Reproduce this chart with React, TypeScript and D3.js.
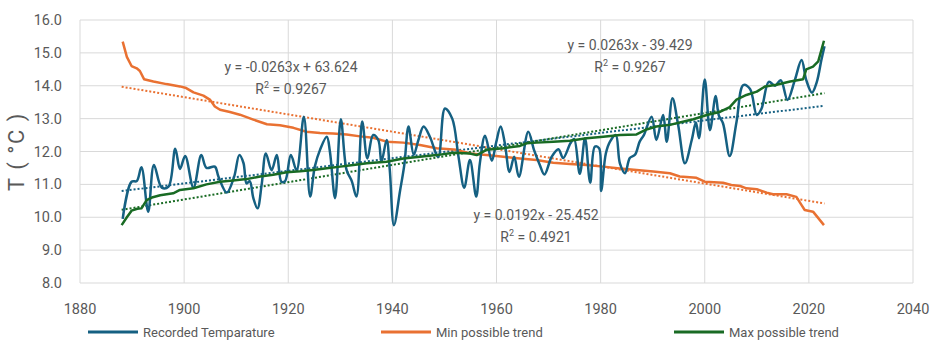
import * as d3 from 'd3'

const YEAR_TICKS = [1880, 1900, 1920, 1940, 1960, 1980, 2000, 2020, 2040]
const TEMP_TICKS = [8, 9, 10, 11, 12, 13, 14, 15, 16]

// [year, °C]
const RECORDED: [number, number][] = [
  [1888.2, 9.95], [1889.9, 11.08], [1890.9, 11.1], [1891.8, 11.52], [1893.1, 10.17], [1894.2, 11.59],
  [1895.7, 10.9], [1897.0, 10.93], [1898.3, 12.08], [1899.2, 11.47], [1900.2, 11.86], [1901.8, 10.9],
  [1903.3, 11.89], [1904.3, 11.5], [1905.9, 11.54], [1906.6, 11.23], [1908.2, 10.75], [1909.6, 11.23],
  [1910.6, 11.89], [1911.4, 11.65], [1912.0, 11.03], [1912.6, 11.1], [1913.3, 10.58], [1914.1, 10.27],
  [1914.9, 11.0], [1915.7, 11.94], [1916.8, 11.43], [1917.8, 11.89], [1918.7, 11.08], [1919.4, 11.1],
  [1920.5, 11.89], [1921.6, 11.43], [1923.0, 13.06], [1924.2, 10.63], [1925.1, 11.54], [1926.1, 12.05],
  [1927.4, 12.45], [1928.0, 12.0], [1929.0, 10.58], [1930.1, 12.98], [1931.2, 11.44], [1932.2, 11.1],
  [1933.1, 10.63], [1934.2, 12.91], [1935.2, 11.79], [1936.3, 12.5], [1937.3, 12.35], [1937.9, 11.69],
  [1938.9, 12.35], [1939.5, 11.44], [1940.3, 9.76], [1941.5, 10.83], [1942.3, 11.6], [1943.1, 12.76],
  [1944.1, 11.9], [1945.0, 12.35], [1946.0, 12.76], [1947.2, 12.45], [1948.8, 11.84], [1950.1, 13.31],
  [1951.5, 13.0], [1952.7, 11.84], [1953.8, 10.9], [1954.9, 11.74], [1956.1, 10.63], [1956.8, 11.64],
  [1957.8, 12.48], [1959.1, 11.72], [1959.9, 12.25], [1960.8, 12.76], [1961.6, 12.25], [1962.5, 11.38],
  [1963.4, 11.84], [1964.3, 11.23], [1966.1, 12.6], [1967.2, 12.05], [1968.3, 11.6], [1969.2, 11.3],
  [1970.6, 11.84], [1971.9, 12.07], [1972.8, 11.8], [1974.2, 12.25], [1974.9, 12.38], [1976.0, 11.32],
  [1977.0, 12.4], [1978.0, 11.05], [1978.9, 12.15], [1979.7, 12.1], [1980.1, 10.8], [1981.0, 11.94],
  [1981.8, 12.3], [1982.9, 12.5], [1983.7, 11.64], [1984.7, 11.34], [1985.6, 11.8], [1986.6, 11.9],
  [1987.5, 12.3], [1988.3, 12.5], [1989.8, 13.06], [1990.7, 12.35], [1992.0, 13.11], [1992.7, 12.3],
  [1993.8, 13.62], [1994.9, 12.8], [1996.2, 11.64], [1997.5, 12.35], [1998.3, 12.88], [1998.9, 12.4],
  [2000.0, 14.19], [2001.0, 12.65], [2002.1, 13.69], [2002.7, 13.1], [2003.5, 12.86], [2004.8, 11.86],
  [2006.1, 12.9], [2007.4, 14.02], [2008.7, 13.9], [2010.0, 13.11], [2010.9, 13.3], [2012.3, 14.12],
  [2013.5, 14.0], [2014.6, 14.17], [2015.9, 13.57], [2017.3, 14.17], [2018.6, 14.78], [2019.5, 14.17],
  [2020.6, 13.79], [2021.5, 14.1], [2022.4, 14.78], [2023.0, 15.2],
]

const MIN_TREND: [number, number][] = [
  [1888.2, 15.34], [1889, 14.88], [1889.9, 14.6], [1890.9, 14.53], [1891.5, 14.45], [1892.3, 14.2],
  [1894.1, 14.13], [1896.6, 14.05], [1899.2, 13.98], [1900.4, 13.93], [1901.8, 13.8], [1903.7, 13.7],
  [1905, 13.57], [1905.9, 13.37], [1906.9, 13.27], [1908.8, 13.2], [1910.7, 13.12], [1913.3, 12.97],
  [1915.9, 12.83], [1918.4, 12.8], [1921, 12.72], [1923.5, 12.6], [1926.1, 12.56], [1928.6, 12.55],
  [1931.2, 12.52], [1933.8, 12.46], [1936.3, 12.42], [1938.9, 12.3], [1942.1, 12.27], [1945.3, 12.2],
  [1948.5, 12.1], [1952.3, 12.05], [1954.9, 11.94], [1958.1, 11.89], [1961.3, 11.84], [1964.5, 11.79],
  [1967.7, 11.74], [1970.9, 11.66], [1974.1, 11.62], [1977.3, 11.59], [1980.5, 11.54], [1983.7, 11.48],
  [1986.9, 11.44], [1990.1, 11.39], [1993.3, 11.34], [1995.2, 11.24], [1998.4, 11.2], [2000, 11.08],
  [2003.5, 11.05], [2005.1, 10.98], [2006.8, 10.95], [2008, 10.88], [2010, 10.85], [2011.9, 10.75],
  [2013.1, 10.7], [2015.7, 10.7], [2017.6, 10.62], [2018.6, 10.37], [2019.2, 10.22], [2020.8, 10.17],
  [2022.9, 9.76],
]

const MAX_TREND: [number, number][] = [
  [1888, 9.76], [1889, 10.0], [1889.9, 10.2], [1891, 10.26], [1891.8, 10.27], [1892.8, 10.52],
  [1893.8, 10.6], [1895.4, 10.67], [1897.9, 10.73], [1899.2, 10.83], [1901.8, 10.88], [1904.3, 11.0],
  [1906.9, 11.08], [1909.4, 11.12], [1912, 11.16], [1914.6, 11.24], [1917.1, 11.29], [1919.7, 11.37],
  [1922.3, 11.4], [1924.8, 11.44], [1927.4, 11.49], [1930, 11.54], [1932.5, 11.59], [1935.1, 11.64],
  [1938.9, 11.69], [1942.1, 11.79], [1945.3, 11.84], [1948.5, 11.89], [1951.7, 11.96], [1954.9, 11.94],
  [1956.2, 11.89], [1958.1, 12.05], [1961.3, 12.1], [1964.5, 12.17], [1965.8, 12.25], [1967.7, 12.27],
  [1970.9, 12.3], [1974.1, 12.33], [1977.3, 12.4], [1980.5, 12.45], [1983.7, 12.5], [1986.9, 12.52],
  [1988.8, 12.67], [1990.7, 12.76], [1993.3, 12.81], [1995.2, 12.88], [1997.8, 12.98], [2000.4, 13.11],
  [2003, 13.21], [2004.8, 13.35], [2006.1, 13.58], [2008, 13.72], [2010, 13.82], [2011.6, 13.98],
  [2013.8, 14.03], [2016.4, 14.13], [2018.9, 14.2], [2019.5, 14.5], [2020.8, 14.58], [2021.8, 14.74],
  [2022.9, 15.37],
]

// linear trendlines as printed on the chart: slope, intercept, R²
const TREND_RECORDED = [0.0192, -25.452, 0.4921]
const TREND_MIN = [-0.0263, 63.624, 0.9267]
const TREND_MAX = [0.0263, -39.429, 0.9267]
const TREND_SPAN = [1888, 2023]

const BLUE = '#156082'
const ORANGE = '#E97132'
const GREEN = '#196B24'
const TXT = '#595959'
const GRID = '#d9d9d9'

const W = 935
const H = 343
const M = { left: 80, right: 22, top: 20, bottom: 60 }

export default function App() {
  const x = d3.scaleLinear().domain([1880, 2040]).range([M.left, W - M.right])
  const y = d3.scaleLinear().domain([8, 16]).range([H - M.bottom, M.top])

  const smooth = d3.line<[number, number]>().x(d => x(d[0])).y(d => y(d[1])).curve(d3.curveCatmullRom.alpha(0.5))
  const straight = d3.line<[number, number]>().x(d => x(d[0])).y(d => y(d[1]))

  const trendPath = (t: number[]) =>
    straight(TREND_SPAN.map(yr => [yr, t[0] * yr + t[1]] as [number, number])) || ''

  const font = 'Roboto, "Noto Sans", sans-serif'

  const eqLabel = (t: number[], cx: number, cy: number) => {
    const sign = t[1] < 0 ? '-' : '+'
    return (
      <g fill={TXT} fontSize={14} textAnchor="middle" fontFamily={font} style={{ whiteSpace: 'pre' }}>
        <text x={cx} y={cy}>{`y = ${t[0].toFixed(4)}x  ${sign} ${Math.abs(t[1]).toFixed(3)}`}</text>
        <text x={cx} y={cy + 22}>
          R<tspan fontSize={9} dy={-6}>2</tspan><tspan dy={6}>{` = ${t[2].toFixed(4)}`}</tspan>
        </text>
      </g>
    )
  }

  const legend = [
    { label: 'Recorded Temparature', color: BLUE, x0: 88 },
    { label: 'Min possible trend', color: ORANGE, x0: 381 },
    { label: 'Max possible trend', color: GREEN, x0: 674 },
  ]

  return (
    <svg width={W} height={H} style={{ position: 'absolute', left: 0, top: 0, background: '#fff' }} fontFamily={font}>
      {/* grid */}
      {TEMP_TICKS.map(t => (
        <line key={'h' + t} x1={x(1880)} x2={x(2040)} y1={y(t)} y2={y(t)} stroke={GRID} strokeWidth={1} />
      ))}
      {YEAR_TICKS.map(t => (
        <line key={'v' + t} x1={x(t)} x2={x(t)} y1={y(8)} y2={y(16)} stroke={GRID} strokeWidth={1} />
      ))}

      {/* tick labels */}
      {TEMP_TICKS.map(t => (
        <text key={'yl' + t} x={M.left - 18} y={y(t)} dy="0.35em" textAnchor="end" fontSize={14.5} fill={TXT}>
          {t.toFixed(1)}
        </text>
      ))}
      {YEAR_TICKS.map(t => (
        <text key={'xl' + t} x={x(t)} y={y(8) + 31} textAnchor="middle" fontSize={14.5} fill={TXT}>
          {t}
        </text>
      ))}
      <text
        transform={`translate(24,${(y(8) + y(16)) / 2}) rotate(-90)`}
        textAnchor="middle" fontSize={22} fill={TXT} style={{ whiteSpace: 'pre' }} letterSpacing={1.5}
      >
        T ( °C )
      </text>

      {/* trendlines */}
      <path d={trendPath(TREND_MIN)} fill="none" stroke={ORANGE} strokeWidth={2} strokeDasharray="2 2" />
      <path d={trendPath(TREND_RECORDED)} fill="none" stroke={BLUE} strokeWidth={2} strokeDasharray="2 2" />
      <path d={trendPath(TREND_MAX)} fill="none" stroke={GREEN} strokeWidth={2} strokeDasharray="2 2" />

      {/* series */}
      <path d={straight(MIN_TREND) || ''} fill="none" stroke={ORANGE} strokeWidth={2.5} strokeLinejoin="round" />
      <path d={smooth(RECORDED) || ''} fill="none" stroke={BLUE} strokeWidth={2.5} strokeLinejoin="round" />
      <path d={straight(MAX_TREND) || ''} fill="none" stroke={GREEN} strokeWidth={2.5} strokeLinejoin="round" />

      {/* trendline equations */}
      {eqLabel(TREND_MIN, 291, 72)}
      {eqLabel(TREND_MAX, 630, 50)}
      {eqLabel(TREND_RECORDED, 536, 220)}

      {/* legend */}
      {legend.map(l => (
        <g key={l.label}>
          <line x1={l.x0} x2={l.x0 + 50} y1={332} y2={332} stroke={l.color} strokeWidth={3} />
          <text x={l.x0 + 55} y={332} dy="0.35em" fontSize={13} fill={TXT}>{l.label}</text>
        </g>
      ))}
    </svg>
  )
}
